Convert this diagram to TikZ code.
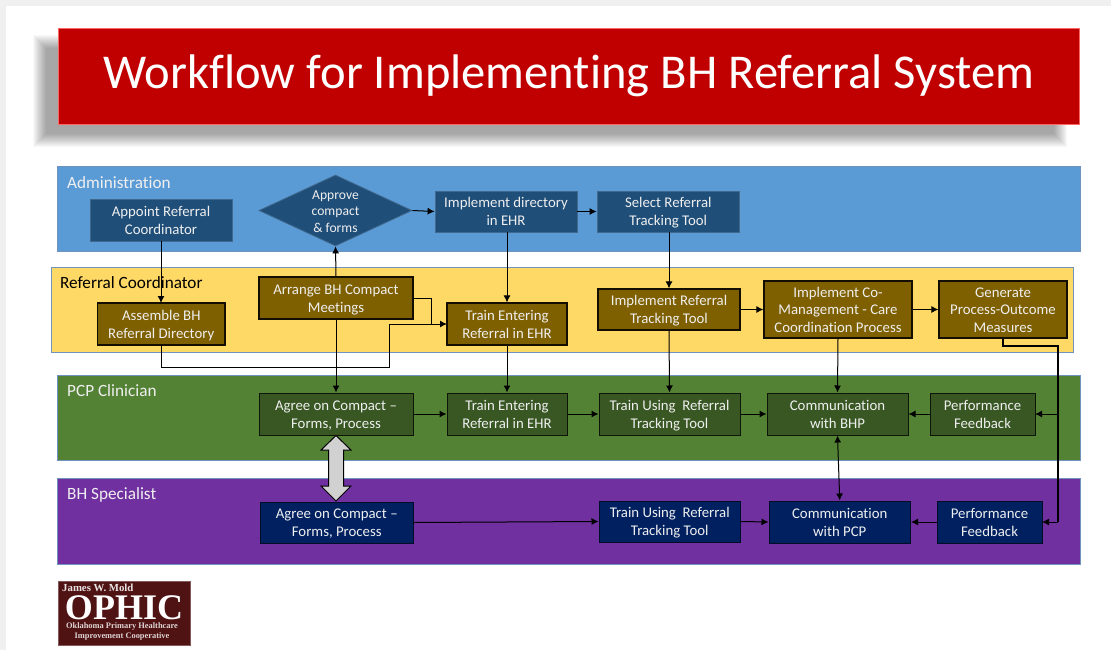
\documentclass[tikz,border=0pt]{standalone}
\usepackage{fontspec}
\setmainfont[Ligatures=CommonOff]{Carlito}
\newfontfamily\logofont{Liberation Serif}
\usetikzlibrary{arrows.meta,shapes.geometric}
\definecolor{adminband}{HTML}{5B9BD5}
\definecolor{adminbox}{HTML}{1F4E79}
\definecolor{coordband}{HTML}{FFD966}
\definecolor{coordbox}{HTML}{7F6000}
\definecolor{pcpband}{HTML}{548235}
\definecolor{pcpbox}{HTML}{385723}
\definecolor{bhband}{HTML}{7030A0}
\definecolor{bhbox}{HTML}{002060}
\definecolor{bandedge}{HTML}{6F93BE}
\definecolor{boxtext}{HTML}{EFEFEF}
\definecolor{titlered}{HTML}{C00000}
\definecolor{logored}{HTML}{4F1313}
\tikzset{
  x=1pt,y=-1pt,
  band/.style={draw=bandedge,line width=0.8pt},
  bandlabel/.style={anchor=west,inner sep=0pt,font=\fontsize{17.2}{19}\selectfont},
  boxbase/.style={inner sep=0pt,align=center,text=boxtext,font=\fontsize{14.8}{17.7}\selectfont},
  adminstyle/.style={boxbase,fill=adminbox,draw=adminbox!85!white,line width=0.8pt},
  coordstyle/.style={boxbase,fill=coordbox,draw=black!85!coordbox,line width=1.2pt},
  pcpstyle/.style={boxbase,fill=pcpbox,draw=black!75!pcpbox,line width=1pt},
  bhstyle/.style={boxbase,fill=bhbox,draw=black!60!bhbox,line width=1pt},
  link/.style={draw=black,line width=1pt,-{Latex[length=7pt,width=7pt]}},
  plainlink/.style={draw=black,line width=1pt},
  bothlink/.style={draw=black,line width=1pt,{Latex[length=7pt,width=7pt]}-{Latex[length=7pt,width=7pt]}},
  logotext/.style={inner sep=0pt,text=white},
}
% name, style, x1, y1, x2, y2, text
\newcommand{\flowbox}[7]{%
  \pgfmathsetmacro{\bxw}{#5-#3}\pgfmathsetmacro{\bxh}{#6-#4}%
  \node[#2,minimum width=\bxw pt,minimum height=\bxh pt] (#1) at ({(#3+#5)/2},{(#4+#6)/2})
    {\rule{0pt}{\dimexpr\ht\strutbox+3.6pt\relax}#7\strut};}
\begin{document}
\begin{tikzpicture}
\useasboundingbox (0,0) rectangle (1111,650);
\fill[black!6] (0,0) rectangle (1111,650);
\fill[white] (6,6) rectangle (1111,650);
% title shadow
\foreach \d in {0,1,...,13}{
  \fill[black,opacity=0.027] ({33+\d},{35+\d}) rectangle ({1067-\d},{147-\d});
}
\node[fill=titlered,draw=red!60!white,line width=0.9pt,minimum width=1021pt,minimum height=96pt,inner sep=0pt,
      text=white,font=\fontsize{48.6}{56}\selectfont] (title) at (569,76) {\raisebox{-2.4pt}{Workflow for Implementing BH Referral System}};
% bands
\fill[adminband,band] (57,166) rectangle (1080,251);
\fill[coordband,band] (51,267) rectangle (1073,352);
\fill[pcpband,band] (57,375) rectangle (1080,460);
\fill[bhband,band] (57,478) rectangle (1080,564);
\node[bandlabel,text=boxtext] (ladmin) at (67,182.5) {Administration};
\node[bandlabel,text=black] (lcoord) at (60,283) {Referral Coordinator};
\node[bandlabel,text=boxtext] (lpcp) at (67,391) {PCP Clinician};
\node[bandlabel,text=boxtext] (lbh) at (67,495) {BH Specialist};
% administration
\flowbox{appoint}{adminstyle}{90}{199}{232}{241}{Appoint Referral\\Coordinator}
\node[diamond,aspect=2.15,adminstyle,minimum width=153pt,minimum height=71pt,inner sep=0pt] (approve) at (335.5,210.5) {};
\node[boxbase,font=\fontsize{13.6}{16.6}\selectfont] (approvetext) at (335.5,211.5) {Approve\\compact\\\& forms};
\flowbox{impdir}{adminstyle}{435}{191}{577}{232}{Implement directory\\in EHR}
\flowbox{select}{adminstyle}{597}{191}{739.5}{232}{Select Referral\\Tracking Tool}
% coordinator
\flowbox{assemble}{coordstyle}{97.5}{303}{225}{345}{Assemble BH\\Referral Directory}
\flowbox{arrange}{coordstyle}{259}{277}{413}{319}{Arrange BH Compact\\Meetings}
\flowbox{trainc}{coordstyle}{447}{303}{567}{345}{Train Entering\\Referral in EHR}
\flowbox{impref}{coordstyle}{598}{289}{740}{330}{Implement Referral\\Tracking Tool}
\flowbox{impco}{coordstyle}{764}{281}{912}{338}{Implement Co-\\Management - Care\\Coordination Process}
\flowbox{generate}{coordstyle}{939}{281}{1067}{338}{Generate\\Process-Outcome\\Measures}
% PCP
\flowbox{agreep}{pcpstyle}{259}{393}{413}{435}{Agree on Compact --\\Forms, Process}
\flowbox{trainp}{pcpstyle}{447}{393}{567}{435}{Train Entering\\Referral in EHR}
\flowbox{usep}{pcpstyle}{599}{393}{740}{435}{Train Using\ \ Referral\\Tracking Tool}
\flowbox{commp}{pcpstyle}{767}{393}{908}{435}{Communication\\with BHP}
\flowbox{perfp}{pcpstyle}{930}{393}{1035}{435}{Performance\\Feedback}
% BH
\flowbox{agreeb}{bhstyle}{260}{502}{413.5}{543}{Agree on Compact --\\Forms, Process}
\flowbox{useb}{bhstyle}{599}{501}{740.5}{542}{Train Using\ \ Referral\\Tracking Tool}
\flowbox{commb}{bhstyle}{769}{501}{910.5}{543}{Communication\\with PCP}
\flowbox{perfb}{bhstyle}{937}{501}{1042}{543}{Performance\\Feedback}
% named route points
\coordinate (appointout) at (161,241);
\coordinate (assembletop) at (161,303);
\coordinate (assembleout) at (161,345);
\coordinate (lowcorner) at (161,367);
\coordinate (riser) at (389,367);
\coordinate (riserturn) at (389,324);
\coordinate (traincin) at (447,324);
\coordinate (arrout) at (413,298);
\coordinate (arrturn) at (431,298);
\coordinate (arrjoin) at (431,324);
\coordinate (genturn) at (1003,346);
\coordinate (genright) at (1058,346);
\coordinate (genbranch) at (1058,414);
\coordinate (genlow) at (1058,522);
\coordinate (perfpin) at (1035,414);
\coordinate (perfbin) at (1042,522);
% connectors
\draw[link] (appointout) -- (assembletop);
\draw[link] (approve.east) -- (impdir.west);
\draw[link] (impdir.east) -- (select.west);
\draw[link] (arrange.north) -- (approve.south);
\draw[link] (arrange.south) -- (agreep.north);
\draw[plainlink] (arrout) -- (arrturn) -- (arrjoin);
\draw[link] (assembleout) -- (lowcorner) -- (riser) -- (riserturn) -- (traincin);
\draw[link] (impdir.south -| trainc.north) -- (trainc.north);
\draw[link] (select.south -| impref.north) -- (impref.north);
\draw[link] (impref.east |- impco.west) -- (impco.west);
\draw[link] (impco.east) -- (generate.west);
\draw[link] (trainc.south) -- (trainp.north);
\draw[link] (impref.south) -- (usep.north);
\draw[link] (impco.south) -- (commp.north);
\draw[plainlink,line width=1.4pt] (generate.south -| genturn) -- (genturn) -- (genright) -- (genlow);
\draw[link] (genlow) -- (perfbin);
\draw[link] (genbranch) -- (perfpin);
\draw[link] (agreep.east) -- (trainp.west);
\draw[link] (trainp.east) -- (usep.west);
\draw[link] (usep.east) -- (commp.west);
\draw[link] (perfp.west) -- (commp.east);
\draw[bothlink] (commp.south) -- (commb.north);
\draw[link] (agreeb.east) -- (useb.west);
\draw[link] (useb.east) -- (commb.west);
\draw[link] (perfb.west) -- (commb.east);
% block double arrow
\draw[fill=black!18,draw=black,line width=1pt,line join=miter]
  (336,435.5) -- (351,450) -- (343.5,450) -- (343.5,486) -- (351,486) -- (336,501)
  -- (321,486) -- (328.5,486) -- (328.5,450) -- (321,450) -- cycle;
% logo
\node[fill=logored,draw=logored!70!white,line width=0.4pt,minimum width=132pt,minimum height=64pt,inner sep=0pt] (logo) at (124,613) {};
\node[logotext,anchor=west,font=\logofont\bfseries\fontsize{10.8}{11}\selectfont,text=white!88!logored] (logoa) at (62,588) {James W. Mold};
\node[logotext,font=\logofont\bfseries\fontsize{36}{38}\selectfont] (logob) at (124,608) {OPHIC};
\node[logotext,font=\logofont\bfseries\fontsize{8.4}{9}\selectfont,text=white!82!logored] (logoc) at (122,626.5) {Oklahoma Primary Healthcare};
\node[logotext,font=\logofont\bfseries\fontsize{8.4}{9}\selectfont,text=white!82!logored] (logod) at (122,636) {Improvement Cooperative};
\end{tikzpicture}
\end{document}
